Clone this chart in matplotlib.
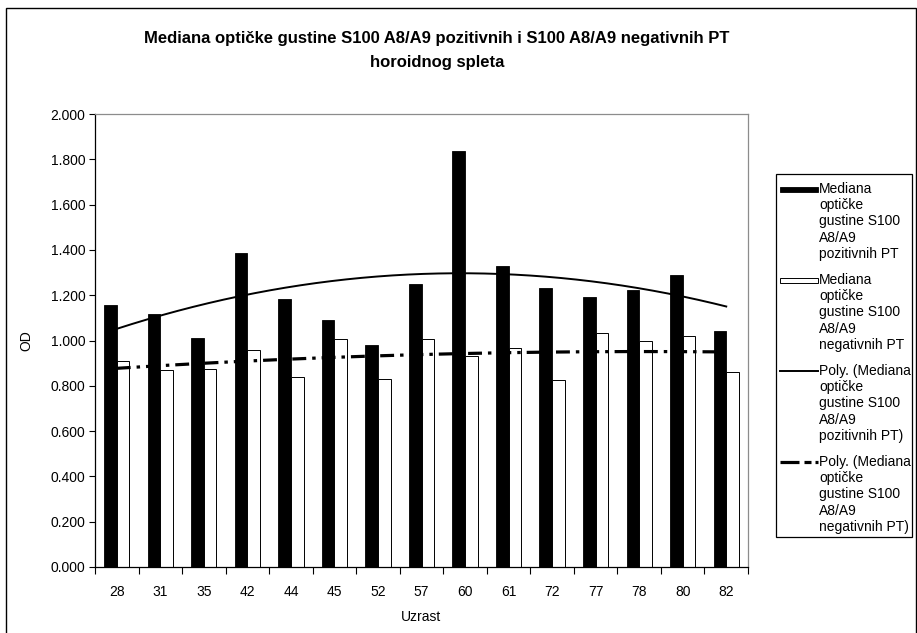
import matplotlib
matplotlib.use("Agg")
import matplotlib.pyplot as plt
import numpy as np
from matplotlib.patches import Rectangle
from matplotlib.lines import Line2D

plt.rcParams["font.family"] = ["Liberation Sans", "DejaVu Sans"]
plt.rcParams["lines.scale_dashes"] = False

# ---------------------------------------------------------------------------
# Data
# ---------------------------------------------------------------------------
ages = ["28", "31", "35", "42", "44", "45", "52", "57", "60", "61", "72", "77", "78", "80", "82"]
od_pos = [1.155, 1.116, 1.013, 1.385, 1.183, 1.091, 0.978, 1.249, 1.835, 1.327,
          1.230, 1.190, 1.223, 1.289, 1.040]
od_neg = [0.910, 0.869, 0.872, 0.959, 0.841, 1.007, 0.830, 1.007, 0.932, 0.966,
          0.827, 1.035, 0.996, 1.018, 0.860]

title_lines = ["Mediana optičke gustine S100 A8/A9 pozitivnih i S100 A8/A9 negativnih PT",
               "horoidnog spleta"]
legend_labels = [
    ["Mediana", "optičke", "gustine S100", "A8/A9", "pozitivnih PT"],
    ["Mediana", "optičke", "gustine S100", "A8/A9", "negativnih PT"],
    ["Poly. (Mediana", "optičke", "gustine S100", "A8/A9", "pozitivnih PT)"],
    ["Poly. (Mediana", "optičke", "gustine S100", "A8/A9", "negativnih PT)"],
]

W, H = 917, 633
fx = lambda px: px / W
fy = lambda py: 1 - py / H
FS = 10

fig = plt.figure(figsize=(W / 100, H / 100), dpi=100)
ax = fig.add_axes([fx(95), fy(567), fx(748) - fx(95), fy(114) - fy(567)])

x = np.arange(len(ages))
bw = 0.29
ax.bar(x - bw / 2, od_pos, width=bw, color="black", edgecolor="black", linewidth=0.6, zorder=2)
ax.bar(x + bw / 2, od_neg, width=bw, color="white", edgecolor="black", linewidth=0.7, zorder=2)

# polynomial (order 2) trend lines, like Excel
xs = np.linspace(0, len(ages) - 1, 200)
cp = np.polyfit(x + 1, od_pos, 2)
cn = np.polyfit(x + 1, od_neg, 2)
ax.plot(xs, np.polyval(cp, xs + 1), color="black", lw=1.4, zorder=3)
ax.plot(xs, np.polyval(cn, xs + 1), color="black", lw=2.3, zorder=3,
        linestyle=(0, (10, 4.3, 2.5, 4.3)))

ax.set_xlim(-0.5, len(ages) - 0.5)
ax.set_ylim(0, 2.0)
ax.set_yticks(np.arange(0, 2.01, 0.2))
ax.set_yticklabels([f"{v:.3f}" for v in np.arange(0, 2.01, 0.2)], fontsize=FS)
ax.set_xticks(x)
ax.set_xticklabels(ages, fontsize=FS)
ax.set_xticks(np.arange(-0.5, len(ages), 1), minor=True)
ax.tick_params(axis="x", which="major", length=0, pad=13)
ax.tick_params(axis="x", which="minor", length=5, width=0.8, direction="out")
ax.tick_params(axis="y", length=4, width=0.8, direction="out", pad=3)
for s in ("top", "right"):
    ax.spines[s].set_color("#8c8c8c")
    ax.spines[s].set_linewidth(0.9)
for s in ("left", "bottom"):
    ax.spines[s].set_color("black")
    ax.spines[s].set_linewidth(0.9)

ax.set_xlabel("Uzrast", fontsize=FS, labelpad=8)
ax.set_ylabel("OD", fontsize=FS, labelpad=12)

for t, yy in zip(title_lines, [38, 63]):
    fig.text(fx(437), fy(yy), t, ha="center", va="center", fontsize=12, fontweight="bold")

# outer chart border
fig.patches.append(Rectangle((fx(6), fy(640)), fx(910), fy(8) - fy(640),
                             transform=fig.transFigure, fill=False,
                             edgecolor="black", linewidth=1.0))

# legend box drawn by hand so the keys line up with the first text line
fig.patches.append(Rectangle((fx(776), fy(537)), fx(912) - fx(776), fy(174) - fy(537),
                             transform=fig.transFigure, facecolor="white",
                             edgecolor="black", linewidth=0.9))
first_y = [189, 280, 371, 462]
step = 16.2
for i, (lines, y0) in enumerate(zip(legend_labels, first_y)):
    for j, t in enumerate(lines):
        fig.text(fx(819), fy(y0 + j * step), t, ha="left", va="center", fontsize=FS)
    if i == 0:
        fig.patches.append(Rectangle((fx(780), fy(y0 + 3)), fx(38), fy(y0 - 2) - fy(y0 + 3),
                                     transform=fig.transFigure, facecolor="black",
                                     edgecolor="black", linewidth=0.6))
    elif i == 1:
        fig.patches.append(Rectangle((fx(780), fy(y0 + 3)), fx(38), fy(y0 - 2) - fy(y0 + 3),
                                     transform=fig.transFigure, facecolor="white",
                                     edgecolor="black", linewidth=0.7))
    elif i == 2:
        fig.lines.append(Line2D([fx(780), fx(818)], [fy(y0), fy(y0)], transform=fig.transFigure,
                                color="black", lw=1.4))
    else:
        for a, b in [(780, 799), (804, 811), (815, 818)]:
            fig.lines.append(Line2D([fx(a), fx(b)], [fy(y0), fy(y0)], transform=fig.transFigure,
                                    color="black", lw=2.3, solid_capstyle="butt"))

fig.savefig("out.png", dpi=100)
